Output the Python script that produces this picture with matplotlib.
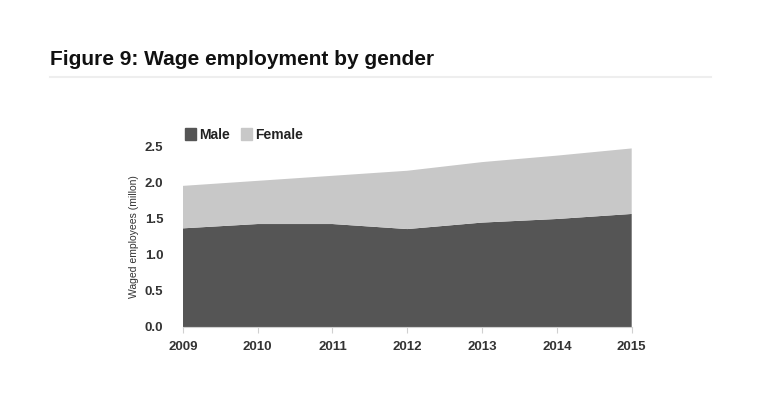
import matplotlib.pyplot as plt
from matplotlib.patches import Patch
from matplotlib.lines import Line2D

# data (millions)
years = [2009, 2010, 2011, 2012, 2013, 2014, 2015]
male = [1.37, 1.43, 1.43, 1.36, 1.45, 1.50, 1.57]
female = [0.59, 0.60, 0.67, 0.81, 0.84, 0.88, 0.91]
yticks = [0.0, 0.5, 1.0, 1.5, 2.0, 2.5]

plt.rcParams['font.family'] = ['Liberation Sans', 'DejaVu Sans']

fig = plt.figure(figsize=(7.62, 3.99), dpi=100)
ax = fig.add_axes([0.240, 0.1805, 0.589, 0.4511])

ax.stackplot(years, male, female, colors=['#555555', '#c8c8c8'], linewidth=0)

ax.set_xlim(years[0], years[-1])
ax.set_ylim(0, 2.5)
ax.set_xticks(years)
ax.set_yticks(yticks)
ax.set_yticklabels(['%.1f' % v for v in yticks])
for s in ['top', 'right', 'left']:
    ax.spines[s].set_visible(False)
ax.spines['bottom'].set_color('#d0d0d0')
ax.tick_params(axis='y', length=0, pad=14, labelsize=9.5, labelcolor='#333333')
ax.tick_params(axis='x', length=4, color='#d0d0d0', pad=6, labelsize=9.5, labelcolor='#333333')
for t in ax.get_xticklabels() + ax.get_yticklabels():
    t.set_fontweight('bold')
ax.set_ylabel('Waged employees (millon)', fontsize=7.5, color='#333333', labelpad=4)

# legend
handles = [Patch(color='#555555'), Patch(color='#c8c8c8')]
leg = fig.legend(handles, ['Male', 'Female'], loc='upper left', bbox_to_anchor=(0.234, 0.697),
                 ncol=2, frameon=False, fontsize=10, handlelength=0.8, handleheight=0.9,
                 handletextpad=0.2, columnspacing=0.8, borderpad=0)
for t in leg.get_texts():
    t.set_fontweight('bold')
    t.set_color('#222222')

# title and rule
fig.text(0.066, 0.850, 'Figure 9: Wage employment by gender', fontsize=15, fontweight='bold',
         color='#111111', va='center', ha='left')
fig.add_artist(Line2D([0.066, 0.933], [0.808, 0.808], color='#eeeeee', lw=1.5))

fig.savefig('out.png', dpi=100)
